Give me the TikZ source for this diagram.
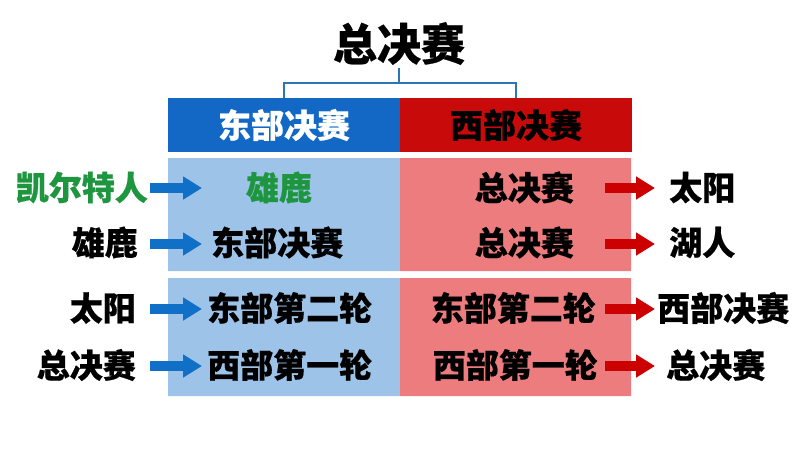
\documentclass[tikz,border=0pt]{standalone}
\usepackage{fontspec}
\setmainfont{Noto Sans CJK SC}[BoldFeatures={FakeBold=0.6}]
\usetikzlibrary{arrows.meta}
\definecolor{hblue}{HTML}{1268C4}
\definecolor{hred}{HTML}{C80A0A}
\definecolor{lblue}{HTML}{9DC3E8}
\definecolor{lred}{HTML}{EC7C7E}
\definecolor{ablue}{HTML}{1070C8}
\definecolor{ared}{HTML}{CC0000}
\definecolor{tgreen}{HTML}{1E9640}
\definecolor{bline}{HTML}{2E75B6}
\tikzstyle{lbl}=[inner sep=0pt,font=\bfseries\fontsize{33}{36}\selectfont]
\tikzstyle{hdr}=[lbl,minimum width=232pt,minimum height=54pt]
\tikzstyle{brk}=[bline,line width=2pt]
\tikzstyle{barrow}=[line width=10pt,-{Triangle[length=19pt,width=22pt]}]

\begin{document}
\begin{tikzpicture}[x=1pt,y=-1pt]
    \fill[white] (0,0) rectangle (800,450);
    \useasboundingbox (0,0) rectangle (800,450);
    \fill[lblue] (168,158) rectangle (400,271) (168,278) rectangle (400,396);
    \fill[lred] (400,158) rectangle (631,271) (400,278) rectangle (631,396);
    \node[lbl,font=\bfseries\fontsize{44}{48}\selectfont] (title) at (399,43.5) {总决赛};
    \node[hdr,fill=hblue,text=white] (east) at (284,125) {东部决赛};
    \node[hdr,fill=hred,text=black] (west) at (516,125) {西部决赛};
    \draw[brk] (title.south) ++(0,3) -- ++(0,15) coordinate (bm);
    \draw[brk] (bm) -| (east.north);
    \draw[brk] (bm) -| (west.north);
    % east side
    \node[lbl,anchor=east,text=tgreen] (kel) at (148,187.5) {凯尔特人};
    \node[lbl,anchor=east] (xlq) at (138,242.5) {雄鹿};
    \node[lbl,anchor=east] (tyq) at (136,308) {太阳};
    \node[lbl,anchor=east] (zjq) at (136,365) {总决赛};
    \node[lbl,text=tgreen] (xlr) at (279,187.5) {雄鹿};
    \node[lbl,anchor=west] (djr) at (211,242.5) {东部决赛};
    \node[lbl,anchor=west] (der) at (207,308) {东部第二轮};
    \node[lbl,anchor=west] (xyr) at (207,365) {西部第一轮};
    % west side
    \node[lbl,anchor=east] (zj1) at (574,187.5) {总决赛};
    \node[lbl,anchor=east] (zj2) at (574,242.5) {总决赛};
    \node[lbl,anchor=east] (de2) at (596,308) {东部第二轮};
    \node[lbl,anchor=east] (xy2) at (598,365) {西部第一轮};
    \node[lbl,anchor=west] (tyw) at (669,187.5) {太阳};
    \node[lbl,anchor=west] (hrw) at (669,242.5) {湖人};
    \node[lbl,anchor=west] (xjw) at (657,308) {西部决赛};
    \node[lbl,anchor=west] (zjw) at (666,365) {总决赛};
    \foreach \y/\n in {188/1, 244/2, 309/3, 366/4} {
        \coordinate (bs\n) at (150,\y); \coordinate (be\n) at (202,\y);
        \coordinate (rs\n) at (605,\y); \coordinate (re\n) at (655,\y);
        \draw[barrow,ablue] (bs\n) -- (be\n);
        \draw[barrow,ared] (rs\n) -- (re\n);}
\end{tikzpicture}
\end{document}
